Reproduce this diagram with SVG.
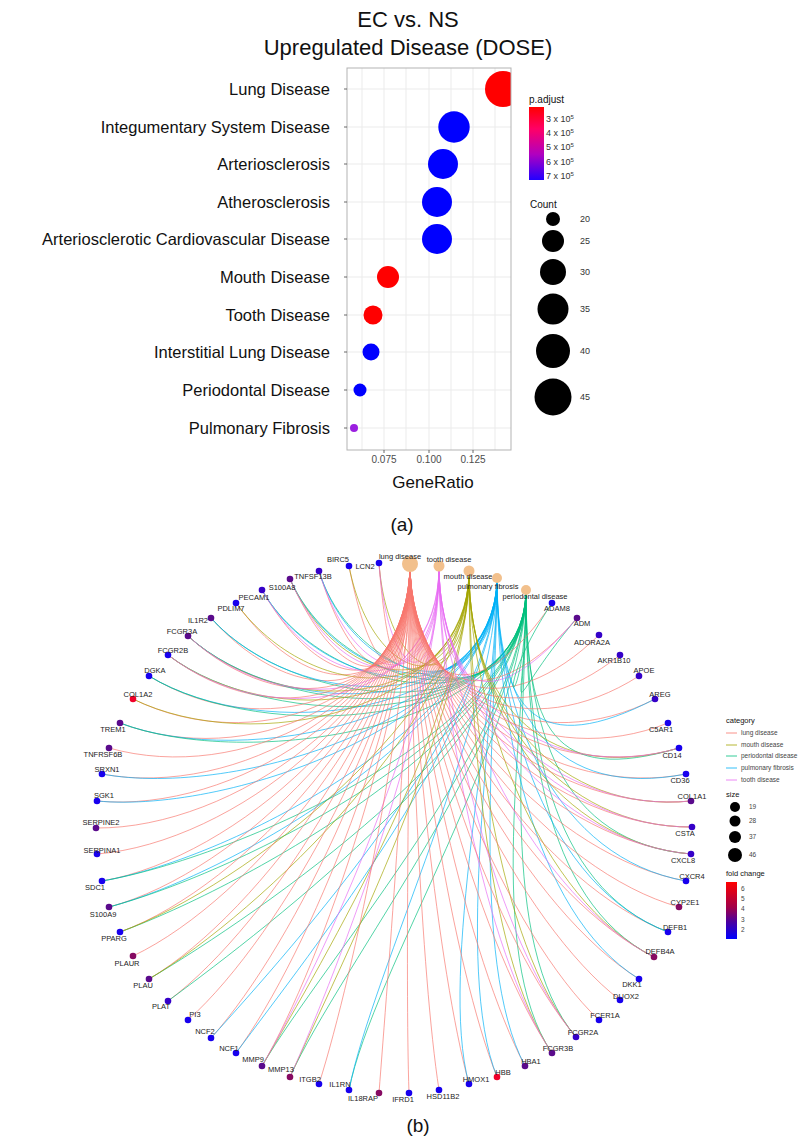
<svg xmlns="http://www.w3.org/2000/svg" width="798" height="1144" viewBox="0 0 798 1144">
<defs>
<linearGradient id="pg" x1="0" y1="0" x2="0" y2="1"><stop offset="0" stop-color="#ff0000"/><stop offset="0.3" stop-color="#ff0066"/><stop offset="0.65" stop-color="#b000c0"/><stop offset="1" stop-color="#2200ff"/></linearGradient>
<linearGradient id="fg" x1="0" y1="0" x2="0" y2="1"><stop offset="0" stop-color="#ff0000"/><stop offset="0.45" stop-color="#a0004a"/><stop offset="0.7" stop-color="#4a00a0"/><stop offset="1" stop-color="#0000ff"/></linearGradient>
</defs>
<style>
text{font-family:"Liberation Sans",Arial,sans-serif;fill:#111}
.ttl{font-size:22px;text-anchor:middle}
.cat{font-size:16.5px;text-anchor:end}
.tk{font-size:10px;fill:#4d4d4d;text-anchor:middle}
.lg{font-size:9px;fill:#333}
.lt{font-size:10px}
.grid{stroke:#ebebeb;stroke-width:1}
.gn{font-size:7.5px;text-anchor:middle;fill:#222}
.dn{font-size:7.5px;text-anchor:middle;fill:#222}
.sl{font-size:6.5px;fill:#444}
path{fill:none;stroke-width:0.8;stroke-opacity:0.85}
.L{stroke:#F8766D}.M{stroke:#A3A500}.D{stroke:#00BF7D}.P{stroke:#00B0F6}.T{stroke:#E76BF3}
.b{fill:#1800ee}.bp{fill:#3500c8}.p{fill:#5a0a8c}.m{fill:#860a62}.r{fill:#f0002a}
.dis{fill:#f2c08c}
</style>
<rect width="798" height="1144" fill="#fff"/>

<g id="dotplot">
<text class="ttl" x="408" y="27">EC vs. NS</text>
<text class="ttl" x="408" y="55">Upregulated Disease (DOSE)</text>
<rect x="347" y="68" width="164" height="382" fill="#fff"/>
<g class="grid">
<line x1="362" y1="68" x2="362" y2="450"/><line x1="384" y1="68" x2="384" y2="450"/><line x1="406" y1="68" x2="406" y2="450"/><line x1="429" y1="68" x2="429" y2="450"/><line x1="451" y1="68" x2="451" y2="450"/><line x1="473" y1="68" x2="473" y2="450"/><line x1="495" y1="68" x2="495" y2="450"/>
<line x1="347" y1="89" x2="511" y2="89"/><line x1="347" y1="127" x2="511" y2="127"/><line x1="347" y1="164" x2="511" y2="164"/><line x1="347" y1="202" x2="511" y2="202"/><line x1="347" y1="239" x2="511" y2="239"/><line x1="347" y1="277" x2="511" y2="277"/><line x1="347" y1="315" x2="511" y2="315"/><line x1="347" y1="352" x2="511" y2="352"/><line x1="347" y1="390" x2="511" y2="390"/><line x1="347" y1="428" x2="511" y2="428"/>
</g>
<clipPath id="pc"><rect x="347" y="68" width="164" height="382"/></clipPath>
<g clip-path="url(#pc)">
<circle cx="503" cy="89" r="18" fill="#ff0000"/>
<circle cx="454" cy="127" r="15.7" fill="#0000ff"/>
<circle cx="443" cy="164" r="15" fill="#0000ff"/>
<circle cx="437" cy="202" r="15" fill="#0000ff"/>
<circle cx="437" cy="239" r="15" fill="#0000ff"/>
<circle cx="388" cy="277" r="11" fill="#ff0000"/>
<circle cx="373" cy="315" r="9.5" fill="#ff0000"/>
<circle cx="371" cy="352" r="8.5" fill="#0000ff"/>
<circle cx="360" cy="390" r="6.5" fill="#0000ff"/>
<circle cx="354" cy="428" r="4" fill="#9b1fe0"/>
</g>
<rect x="347" y="68" width="164" height="382" fill="none" stroke="#b3b3b3" stroke-width="1"/>
<g stroke="#444" stroke-width="0.8">
<line x1="344" y1="89" x2="347" y2="89"/><line x1="344" y1="127" x2="347" y2="127"/><line x1="344" y1="164" x2="347" y2="164"/><line x1="344" y1="202" x2="347" y2="202"/><line x1="344" y1="239" x2="347" y2="239"/><line x1="344" y1="277" x2="347" y2="277"/><line x1="344" y1="315" x2="347" y2="315"/><line x1="344" y1="352" x2="347" y2="352"/><line x1="344" y1="390" x2="347" y2="390"/><line x1="344" y1="428" x2="347" y2="428"/>
<line x1="384" y1="450" x2="384" y2="453"/><line x1="429" y1="450" x2="429" y2="453"/><line x1="473" y1="450" x2="473" y2="453"/>
</g>
<text class="cat" x="330" y="95">Lung Disease</text>
<text class="cat" x="330" y="133">Integumentary System Disease</text>
<text class="cat" x="330" y="170">Arteriosclerosis</text>
<text class="cat" x="330" y="208">Atherosclerosis</text>
<text class="cat" x="330" y="245">Arteriosclerotic Cardiovascular Disease</text>
<text class="cat" x="330" y="283">Mouth Disease</text>
<text class="cat" x="330" y="321">Tooth Disease</text>
<text class="cat" x="330" y="358">Interstitial Lung Disease</text>
<text class="cat" x="330" y="396">Periodontal Disease</text>
<text class="cat" x="330" y="434">Pulmonary Fibrosis</text>
<text class="tk" x="384" y="463">0.075</text>
<text class="tk" x="429" y="463">0.100</text>
<text class="tk" x="473" y="463">0.125</text>
<text x="433" y="488" style="font-size:17px;text-anchor:middle">GeneRatio</text>
<text class="lt" x="529" y="103">p.adjust</text>
<rect x="529" y="107" width="15" height="73" fill="url(#pg)"/>
<text class="lg" x="546" y="122">3 x 10<tspan font-size="6" dy="-3">5</tspan></text>
<text class="lg" x="546" y="136">4 x 10<tspan font-size="6" dy="-3">5</tspan></text>
<text class="lg" x="546" y="150">5 x 10<tspan font-size="6" dy="-3">5</tspan></text>
<text class="lg" x="546" y="165">6 x 10<tspan font-size="6" dy="-3">5</tspan></text>
<text class="lg" x="546" y="179">7 x 10<tspan font-size="6" dy="-3">5</tspan></text>
<text class="lt" x="530" y="208">Count</text>
<circle cx="553" cy="219" r="7"/><circle cx="553" cy="241" r="11"/><circle cx="553" cy="272" r="13"/><circle cx="553" cy="309" r="15.5"/><circle cx="553" cy="351" r="17"/><circle cx="553" cy="397" r="18.5"/>
<text class="lg" x="580" y="222">20</text><text class="lg" x="580" y="244">25</text><text class="lg" x="580" y="275">30</text><text class="lg" x="580" y="312">35</text><text class="lg" x="580" y="354">40</text><text class="lg" x="580" y="400">45</text>
<text x="402" y="531" style="font-size:19px;text-anchor:middle">(a)</text>
</g>

<g id="connectors">
<path class="L" d="M349 566C372 685 410 704 410 564"/><path class="M" d="M349 566C372 685 469 711 469 571"/>
<path class="L" d="M379 563C388 683 410 704 410 564"/><path class="M" d="M379 563C388 683 469 711 469 571"/><path class="T" d="M379 563C388 683 439 706 439 566"/>
<path class="L" d="M319 571C355 688 410 704 410 564"/><path class="D" d="M319 571C355 688 526 730 526 590"/><path class="P" d="M319 571C355 688 497 718 497 578"/><path class="T" d="M319 571C355 688 439 706 439 566"/>
<path class="L" d="M290 579C340 692 410 704 410 564"/><path class="D" d="M290 579C340 692 526 730 526 590"/><path class="P" d="M290 579C340 692 497 718 497 578"/><path class="M" d="M290 579C340 692 469 711 469 571"/><path class="T" d="M290 579C340 692 439 706 439 566"/>
<path class="L" d="M262 590C324 698 410 704 410 564"/><path class="D" d="M262 590C324 698 526 730 526 590"/><path class="P" d="M262 590C324 698 497 718 497 578"/><path class="T" d="M262 590C324 698 439 706 439 566"/>
<path class="L" d="M236 603C310 705 410 704 410 564"/><path class="M" d="M236 603C310 705 469 711 469 571"/>
<path class="L" d="M211 618C296 713 410 704 410 564"/><path class="D" d="M211 618C296 713 526 730 526 590"/><path class="P" d="M211 618C296 713 497 718 497 578"/>
<path class="L" d="M188 636C283 723 410 704 410 564"/><path class="D" d="M188 636C283 723 526 730 526 590"/><path class="P" d="M188 636C283 723 497 718 497 578"/><path class="M" d="M188 636C283 723 469 711 469 571"/><path class="T" d="M188 636C283 723 439 706 439 566"/>
<path class="L" d="M168 655C272 734 410 704 410 564"/><path class="D" d="M168 655C272 734 526 730 526 590"/><path class="M" d="M168 655C272 734 469 711 469 571"/><path class="T" d="M168 655C272 734 439 706 439 566"/>
<path class="L" d="M149 676C262 745 410 704 410 564"/><path class="P" d="M149 676C262 745 497 718 497 578"/><path class="D" d="M149 676C262 745 526 730 526 590"/>
<path class="L" d="M133 699C253 758 410 704 410 564"/><path class="M" d="M133 699C253 758 469 711 469 571"/>
<path class="L" d="M120 723C246 771 410 704 410 564"/><path class="P" d="M120 723C246 771 497 718 497 578"/><path class="D" d="M120 723C246 771 526 730 526 590"/>
<path class="L" d="M109 748C240 785 410 704 410 564"/>
<path class="L" d="M102 774C236 799 410 704 410 564"/><path class="P" d="M102 774C236 799 497 718 497 578"/>
<path class="L" d="M97 801C233 814 410 704 410 564"/><path class="P" d="M97 801C233 814 497 718 497 578"/>
<path class="L" d="M96 828C233 829 410 704 410 564"/>
<path class="L" d="M97 854C233 843 410 704 410 564"/>
<path class="L" d="M102 881C236 858 410 704 410 564"/><path class="P" d="M102 881C236 858 497 718 497 578"/><path class="D" d="M102 881C236 858 526 730 526 590"/>
<path class="L" d="M109 907C240 872 410 704 410 564"/><path class="P" d="M109 907C240 872 497 718 497 578"/><path class="D" d="M109 907C240 872 526 730 526 590"/>
<path class="L" d="M120 932C246 886 410 704 410 564"/><path class="D" d="M120 932C246 886 526 730 526 590"/><path class="M" d="M120 932C246 886 469 711 469 571"/>
<path class="L" d="M133 956C253 899 410 704 410 564"/>
<path class="L" d="M149 979C262 912 410 704 410 564"/><path class="D" d="M149 979C262 912 526 730 526 590"/><path class="M" d="M149 979C262 912 469 711 469 571"/>
<path class="L" d="M168 1001C272 924 410 704 410 564"/><path class="D" d="M168 1001C272 924 526 730 526 590"/>
<path class="L" d="M188 1020C283 935 410 704 410 564"/>
<path class="L" d="M211 1038C296 944 410 704 410 564"/><path class="P" d="M211 1038C296 944 497 718 497 578"/>
<path class="L" d="M236 1053C310 953 410 704 410 564"/><path class="P" d="M236 1053C310 953 497 718 497 578"/>
<path class="L" d="M262 1066C324 960 410 704 410 564"/><path class="D" d="M262 1066C324 960 526 730 526 590"/><path class="M" d="M262 1066C324 960 469 711 469 571"/><path class="T" d="M262 1066C324 960 439 706 439 566"/>
<path class="D" d="M290 1077C340 966 526 730 526 590"/><path class="M" d="M290 1077C340 966 469 711 469 571"/><path class="T" d="M290 1077C340 966 439 706 439 566"/>
<path class="L" d="M319 1084C355 970 410 704 410 564"/>
<path class="D" d="M349 1090C372 973 526 730 526 590"/><path class="P" d="M349 1090C372 973 497 718 497 578"/>
<path class="L" d="M379 1093C388 975 410 704 410 564"/>
<path class="L" d="M409 1093C405 975 410 704 410 564"/>
<path class="L" d="M439 1090C421 973 410 704 410 564"/>
<path class="L" d="M469 1084C438 970 410 704 410 564"/><path class="P" d="M469 1084C438 970 497 718 497 578"/>
<path class="L" d="M497 1077C453 966 410 704 410 564"/><path class="P" d="M497 1077C453 966 497 718 497 578"/>
<path class="L" d="M525 1066C469 960 410 704 410 564"/><path class="P" d="M525 1066C469 960 497 718 497 578"/>
<path class="L" d="M552 1053C484 953 410 704 410 564"/><path class="D" d="M552 1053C484 953 526 730 526 590"/><path class="M" d="M552 1053C484 953 469 711 469 571"/><path class="T" d="M552 1053C484 953 439 706 439 566"/>
<path class="L" d="M576 1037C497 944 410 704 410 564"/><path class="D" d="M576 1037C497 944 526 730 526 590"/><path class="M" d="M576 1037C497 944 469 711 469 571"/><path class="T" d="M576 1037C497 944 439 706 439 566"/>
<path class="L" d="M599 1020C509 935 410 704 410 564"/>
<path class="L" d="M620 1000C521 924 410 704 410 564"/>
<path class="L" d="M639 979C531 912 410 704 410 564"/><path class="P" d="M639 979C531 912 497 718 497 578"/>
<path class="L" d="M654 957C540 900 410 704 410 564"/><path class="D" d="M654 957C540 900 526 730 526 590"/><path class="M" d="M654 957C540 900 469 711 469 571"/><path class="T" d="M654 957C540 900 439 706 439 566"/>
<path class="L" d="M668 932C547 886 410 704 410 564"/><path class="D" d="M668 932C547 886 526 730 526 590"/><path class="P" d="M668 932C547 886 497 718 497 578"/>
<path class="L" d="M679 907C553 872 410 704 410 564"/>
<path class="L" d="M686 881C557 858 410 704 410 564"/><path class="P" d="M686 881C557 858 497 718 497 578"/>
<path class="L" d="M691 854C560 843 410 704 410 564"/><path class="D" d="M691 854C560 843 526 730 526 590"/><path class="M" d="M691 854C560 843 469 711 469 571"/><path class="T" d="M691 854C560 843 439 706 439 566"/>
<path class="L" d="M692 827C561 828 410 704 410 564"/><path class="M" d="M692 827C561 828 469 711 469 571"/><path class="T" d="M692 827C561 828 439 706 439 566"/>
<path class="L" d="M691 801C560 814 410 704 410 564"/><path class="M" d="M691 801C560 814 469 711 469 571"/><path class="T" d="M691 801C560 814 439 706 439 566"/>
<path class="L" d="M686 774C557 799 410 704 410 564"/><path class="P" d="M686 774C557 799 497 718 497 578"/>
<path class="L" d="M679 748C553 785 410 704 410 564"/><path class="D" d="M679 748C553 785 526 730 526 590"/><path class="M" d="M679 748C553 785 469 711 469 571"/><path class="T" d="M679 748C553 785 439 706 439 566"/>
<path class="L" d="M668 723C547 771 410 704 410 564"/>
<path class="L" d="M655 699C540 758 410 704 410 564"/><path class="P" d="M655 699C540 758 497 718 497 578"/>
<path class="L" d="M639 676C531 745 410 704 410 564"/>
<path class="L" d="M620 655C521 734 410 704 410 564"/>
<path class="L" d="M599 635C509 723 410 704 410 564"/>
<path class="L" d="M577 618C497 713 410 704 410 564"/><path class="D" d="M577 618C497 713 526 730 526 590"/><path class="T" d="M577 618C497 713 439 706 439 566"/>
<path class="L" d="M552 603C484 705 410 704 410 564"/><path class="D" d="M552 603C484 705 526 730 526 590"/>
</g>

<g id="disease-nodes">
<g id="n-lung"><circle class="dis" cx="410" cy="564" r="8"/><text class="dn" x="400" y="559">lung disease</text></g>
<g id="n-tooth"><circle class="dis" cx="439" cy="566" r="5.5"/><text class="dn" x="449" y="562">tooth disease</text></g>
<g id="n-mouth"><circle class="dis" cx="469" cy="571" r="5.5"/><text class="dn" x="468" y="579">mouth disease</text></g>
<g id="n-pulm"><circle class="dis" cx="497" cy="578" r="5"/><text class="dn" x="488" y="589">pulmonary fibrosis</text></g>
<g id="n-perio"><circle class="dis" cx="526" cy="590" r="5"/><text class="dn" x="535" y="599">periodontal disease</text></g>
</g>

<g id="gene-nodes">
<g id="g-BIRC5"><circle class="b" cx="349" cy="566" r="3.3"/><text class="gn" x="338" y="562">BIRC5</text></g>
<g id="g-LCN2"><circle class="b" cx="379" cy="563" r="3.3"/><text class="gn" x="365" y="569">LCN2</text></g>
<g id="g-TNFSF13B"><circle class="bp" cx="319" cy="571" r="3.3"/><text class="gn" x="313" y="579">TNFSF13B</text></g>
<g id="g-S100A8"><circle class="p" cx="290" cy="579" r="3.3"/><text class="gn" x="282" y="590">S100A8</text></g>
<g id="g-PECAM1"><circle class="bp" cx="262" cy="590" r="3.3"/><text class="gn" x="254" y="600">PECAM1</text></g>
<g id="g-PDLIM7"><circle class="b" cx="236" cy="603" r="3.3"/><text class="gn" x="231" y="611">PDLIM7</text></g>
<g id="g-IL1R2"><circle class="p" cx="211" cy="618" r="3.3"/><text class="gn" x="198" y="623">IL1R2</text></g>
<g id="g-FCGR3A"><circle class="p" cx="188" cy="636" r="3.3"/><text class="gn" x="182" y="634">FCGR3A</text></g>
<g id="g-FCGR2B"><circle class="b" cx="168" cy="655" r="3.3"/><text class="gn" x="173" y="653">FCGR2B</text></g>
<g id="g-DGKA"><circle class="b" cx="149" cy="676" r="3.3"/><text class="gn" x="155" y="673">DGKA</text></g>
<g id="g-COL1A2"><circle class="r" cx="133" cy="699" r="3.3"/><text class="gn" x="138" y="697">COL1A2</text></g>
<g id="g-TREM1"><circle class="p" cx="120" cy="723" r="3.3"/><text class="gn" x="113" y="732">TREM1</text></g>
<g id="g-TNFRSF6B"><circle class="p" cx="109" cy="748" r="3.3"/><text class="gn" x="103" y="757">TNFRSF6B</text></g>
<g id="g-SRXN1"><circle class="b" cx="102" cy="774" r="3.3"/><text class="gn" x="107" y="772">SRXN1</text></g>
<g id="g-SGK1"><circle class="b" cx="97" cy="801" r="3.3"/><text class="gn" x="104" y="798">SGK1</text></g>
<g id="g-SERPINE2"><circle class="p" cx="96" cy="828" r="3.3"/><text class="gn" x="101" y="825">SERPINE2</text></g>
<g id="g-SERPINA1"><circle class="b" cx="97" cy="854" r="3.3"/><text class="gn" x="102" y="853">SERPINA1</text></g>
<g id="g-SDC1"><circle class="b" cx="102" cy="881" r="3.3"/><text class="gn" x="95" y="890">SDC1</text></g>
<g id="g-S100A9"><circle class="p" cx="109" cy="907" r="3.3"/><text class="gn" x="103" y="917">S100A9</text></g>
<g id="g-PPARG"><circle class="b" cx="120" cy="932" r="3.3"/><text class="gn" x="114" y="941">PPARG</text></g>
<g id="g-PLAUR"><circle class="m" cx="133" cy="956" r="3.3"/><text class="gn" x="127" y="966">PLAUR</text></g>
<g id="g-PLAU"><circle class="p" cx="149" cy="979" r="3.3"/><text class="gn" x="143" y="988">PLAU</text></g>
<g id="g-PLAT"><circle class="bp" cx="168" cy="1001" r="3.3"/><text class="gn" x="161" y="1009">PLAT</text></g>
<g id="g-PI3"><circle class="b" cx="188" cy="1020" r="3.3"/><text class="gn" x="195" y="1017">PI3</text></g>
<g id="g-NCF2"><circle class="b" cx="211" cy="1038" r="3.3"/><text class="gn" x="205" y="1034">NCF2</text></g>
<g id="g-NCF1"><circle class="b" cx="236" cy="1053" r="3.3"/><text class="gn" x="229" y="1051">NCF1</text></g>
<g id="g-MMP9"><circle class="p" cx="262" cy="1066" r="3.3"/><text class="gn" x="253" y="1062">MMP9</text></g>
<g id="g-MMP13"><circle class="m" cx="290" cy="1077" r="3.3"/><text class="gn" x="281" y="1072">MMP13</text></g>
<g id="g-ITGB2"><circle class="b" cx="319" cy="1084" r="3.3"/><text class="gn" x="310" y="1082">ITGB2</text></g>
<g id="g-IL1RN"><circle class="b" cx="349" cy="1090" r="3.3"/><text class="gn" x="340" y="1087">IL1RN</text></g>
<g id="g-IL18RAP"><circle class="m" cx="379" cy="1093" r="3.3"/><text class="gn" x="363" y="1101">IL18RAP</text></g>
<g id="g-IFRD1"><circle class="b" cx="409" cy="1093" r="3.3"/><text class="gn" x="403" y="1102">IFRD1</text></g>
<g id="g-HSD11B2"><circle class="b" cx="439" cy="1090" r="3.3"/><text class="gn" x="443" y="1099">HSD11B2</text></g>
<g id="g-HMOX1"><circle class="b" cx="469" cy="1084" r="3.3"/><text class="gn" x="476" y="1082">HMOX1</text></g>
<g id="g-HBB"><circle class="r" cx="497" cy="1077" r="3.3"/><text class="gn" x="503" y="1075">HBB</text></g>
<g id="g-HBA1"><circle class="p" cx="525" cy="1066" r="3.3"/><text class="gn" x="531" y="1064">HBA1</text></g>
<g id="g-FCGR3B"><circle class="p" cx="552" cy="1053" r="3.3"/><text class="gn" x="558" y="1051">FCGR3B</text></g>
<g id="g-FCGR2A"><circle class="bp" cx="576" cy="1037" r="3.3"/><text class="gn" x="583" y="1035">FCGR2A</text></g>
<g id="g-FCER1A"><circle class="b" cx="599" cy="1020" r="3.3"/><text class="gn" x="605" y="1018">FCER1A</text></g>
<g id="g-DUOX2"><circle class="b" cx="620" cy="1000" r="3.3"/><text class="gn" x="626" y="999">DUOX2</text></g>
<g id="g-DKK1"><circle class="b" cx="639" cy="979" r="3.3"/><text class="gn" x="632" y="987">DKK1</text></g>
<g id="g-DEFB4A"><circle class="m" cx="654" cy="957" r="3.3"/><text class="gn" x="660" y="954">DEFB4A</text></g>
<g id="g-DEFB1"><circle class="b" cx="668" cy="932" r="3.3"/><text class="gn" x="675" y="930">DEFB1</text></g>
<g id="g-CYP2E1"><circle class="m" cx="679" cy="907" r="3.3"/><text class="gn" x="685" y="905">CYP2E1</text></g>
<g id="g-CXCR4"><circle class="b" cx="686" cy="881" r="3.3"/><text class="gn" x="692" y="879">CXCR4</text></g>
<g id="g-CXCL8"><circle class="bp" cx="691" cy="854" r="3.3"/><text class="gn" x="683" y="863">CXCL8</text></g>
<g id="g-CSTA"><circle class="bp" cx="692" cy="827" r="3.3"/><text class="gn" x="685" y="836">CSTA</text></g>
<g id="g-COL1A1"><circle class="p" cx="691" cy="801" r="3.3"/><text class="gn" x="692" y="799">COL1A1</text></g>
<g id="g-CD36"><circle class="b" cx="686" cy="774" r="3.3"/><text class="gn" x="680" y="783">CD36</text></g>
<g id="g-CD14"><circle class="b" cx="679" cy="748" r="3.3"/><text class="gn" x="672" y="758">CD14</text></g>
<g id="g-C5AR1"><circle class="b" cx="668" cy="723" r="3.3"/><text class="gn" x="661" y="732">C5AR1</text></g>
<g id="g-AREG"><circle class="bp" cx="655" cy="699" r="3.3"/><text class="gn" x="660" y="697">AREG</text></g>
<g id="g-APOE"><circle class="bp" cx="639" cy="676" r="3.3"/><text class="gn" x="644" y="673">APOE</text></g>
<g id="g-AKR1B10"><circle class="bp" cx="620" cy="655" r="3.3"/><text class="gn" x="614" y="663">AKR1B10</text></g>
<g id="g-ADORA2A"><circle class="bp" cx="599" cy="635" r="3.3"/><text class="gn" x="592" y="645">ADORA2A</text></g>
<g id="g-ADM"><circle class="p" cx="577" cy="618" r="3.3"/><text class="gn" x="582" y="626">ADM</text></g>
<g id="g-ADAM8"><circle class="b" cx="552" cy="603" r="3.3"/><text class="gn" x="557" y="611">ADAM8</text></g>
</g>

<g id="network-legend">
<text x="726" y="723" style="font-size:7.5px">category</text>
<line x1="726" y1="733" x2="737" y2="733" class="L" stroke-width="0.8"/><text class="sl" x="741" y="735">lung disease</text>
<line x1="726" y1="745" x2="737" y2="745" class="M" stroke-width="0.8"/><text class="sl" x="741" y="747">mouth disease</text>
<line x1="726" y1="756" x2="737" y2="756" class="D" stroke-width="0.8"/><text class="sl" x="741" y="758">periodontal disease</text>
<line x1="726" y1="768" x2="737" y2="768" class="P" stroke-width="0.8"/><text class="sl" x="741" y="770">pulmonary fibrosis</text>
<line x1="726" y1="780" x2="737" y2="780" class="T" stroke-width="0.8"/><text class="sl" x="741" y="782">tooth disease</text>
<text x="726" y="797" style="font-size:7.5px">size</text>
<circle cx="735" cy="807" r="5"/><circle cx="735" cy="821" r="5.5"/><circle cx="735" cy="837" r="6"/><circle cx="735" cy="855" r="7"/>
<text class="sl" x="749" y="809">19</text><text class="sl" x="749" y="823">28</text><text class="sl" x="749" y="839">37</text><text class="sl" x="749" y="857">46</text>
<text x="726" y="876" style="font-size:7.5px">fold change</text>
<rect x="726" y="882" width="11" height="57" fill="url(#fg)"/>
<text class="sl" x="741" y="891">6</text><text class="sl" x="741" y="901">5</text><text class="sl" x="741" y="911">4</text><text class="sl" x="741" y="922">3</text><text class="sl" x="741" y="932">2</text>
</g>
<text x="418" y="1132" style="font-size:19px;text-anchor:middle">(b)</text>
</svg>
